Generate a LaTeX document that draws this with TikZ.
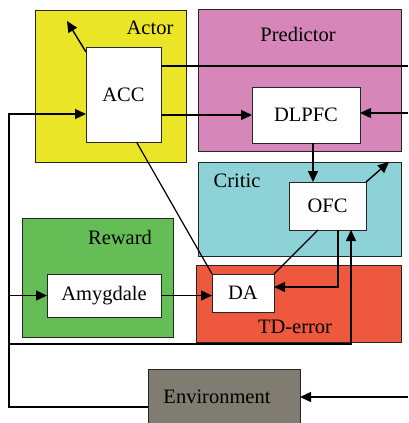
\documentclass[tikz,border=0pt]{standalone}
\usepackage{fontspec}
\setmainfont{Liberation Serif}
\usetikzlibrary{arrows.meta}
\definecolor{actorc}{HTML}{EBE528}
\definecolor{predc}{HTML}{D686B8}
\definecolor{criticc}{HTML}{8CD2D6}
\definecolor{rewardc}{HTML}{64BE55}
\definecolor{tdc}{HTML}{EE583E}
\definecolor{envc}{HTML}{807C71}
\newcommand{\lblfont}{\fontsize{20.5}{23}\selectfont}
\tikzset{
  region/.style={draw=black!85, line width=0.8pt, anchor=north west, inner sep=0pt, outer sep=0pt},
  unit/.style={draw=black!85, fill=white, line width=0.8pt, inner sep=0pt, outer sep=0pt, font=\lblfont},
  lbl/.style={font=\lblfont, inner sep=0pt},
  arr/.style={-{Triangle[length=11pt,width=10pt]}, line width=1.4pt},
  ln/.style={line width=1.2pt}
}
\begin{document}
\begin{tikzpicture}[x=1pt,y=-1pt]
\useasboundingbox (0,0) rectangle (408,423);
% regions
\node[region, fill=actorc, minimum width=151pt, minimum height=152pt] (actor) at (35,10) {};
\node[region, fill=predc, minimum width=203pt, minimum height=142pt] (pred) at (198,9) {};
\node[region, fill=criticc, minimum width=203pt, minimum height=94pt] (critic) at (198,162) {};
\node[region, fill=rewardc, minimum width=151pt, minimum height=119pt] (reward) at (22,218) {};
\node[region, fill=tdc, minimum width=205pt, minimum height=77pt] (td) at (196,265) {};
\node[region, fill=envc, minimum width=152pt, minimum height=60pt] (env) at (148,369) {};
% region labels
\node[lbl] (actorlbl) at (150,28) {Actor};
\node[lbl] (predlbl) at (298,34) {Predictor};
\node[lbl] (criticlbl) at (237,181) {Critic};
\node[lbl] (rewardlbl) at (120,237) {Reward};
\node[lbl] (tdlbl) at (295,327) {TD-error};
\node[lbl] (envlbl) at (217,397) {Environment};
% units
\node[unit, minimum width=75pt, minimum height=95pt] (ACC) at (123.5,94.5) {ACC};
\node[unit, minimum width=108pt, minimum height=56pt] (DLPFC) at (306,115) {DLPFC};
\node[unit, minimum width=77pt, minimum height=48pt] (OFC) at (327.5,206) {OFC};
\node[unit, minimum width=114pt, minimum height=43pt] (Amyg) at (104,295.5) {Amygdale};
\node[unit, minimum width=62pt, minimum height=38pt] (DA) at (243,293) {DA};
% free ends
\coordinate (actorout) at (67,21);
\coordinate (predline) at (408,66);
\coordinate (lefttop) at (9,114);
\coordinate (leftbot) at (9,407);
\coordinate (amygin) at (9,295.5);
\coordinate (tdloop) at (9,344);
\coordinate (criticout) at (389,162);
\coordinate (envin) at (408,397);
\coordinate (dlin) at (408,113);
% connectors
\draw[arr] ([yshift=-5pt]ACC.north west) -- (actorout);
\draw[ln] (ACC.east |- predline) -- (predline);
\draw[arr] (ACC.east |- DLPFC.west) -- (DLPFC.west);
\draw[arr] (env.west |- leftbot) -- (leftbot) -- (lefttop) -- (ACC.west |- lefttop);
\draw[arr] (amygin) -- (Amyg.west);
\draw[arr] (Amyg.east) -- (Amyg.east -| DA.west);
\draw[ln] ([xshift=13pt]ACC.south) -- (DA.north west);
\draw[arr] ([xshift=7pt]DLPFC.south) -- ([xshift=7pt]DLPFC.south |- OFC.north);
\draw[arr] (OFC.north east) -- (criticout);
\draw[ln] ([xshift=-9.5pt]OFC.south) -- (DA.north east);
\draw[arr] ([xshift=10.5pt]OFC.south) |- ([yshift=6pt]DA.east);
\draw[arr] (tdloop) -| ([xshift=23.5pt]OFC.south);
\draw[arr] (envin) -- (env.east |- envin);
\draw[arr] (dlin) -- (DLPFC.east |- dlin);
\end{tikzpicture}
\end{document}
